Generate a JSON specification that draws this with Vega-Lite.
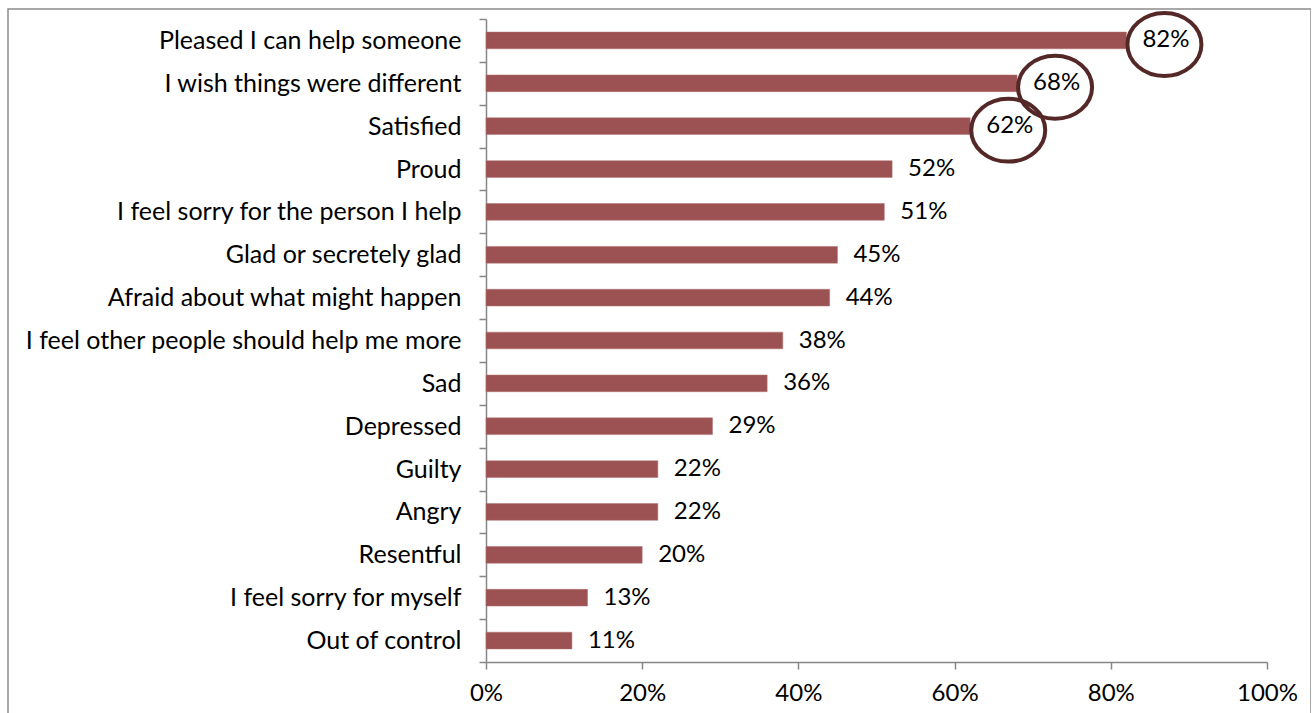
{
  "$schema": "https://vega.github.io/schema/vega-lite/v6.json",
  "autosize": {"type": "none"},
  "width": 1303,
  "height": 711,
  "padding": {"left": 8, "top": 9, "right": 0, "bottom": 0},
  "background": "white",
  "config": {
    "view": {"stroke": "#8c8c8c", "strokeWidth": 1.5},
    "font": "Lato",
    "axis": {"labelFont": "Lato", "labelFontSize": 24, "labelColor": "#000000", "domainColor": "#868686", "tickColor": "#868686", "domainWidth": 1.5, "tickWidth": 1.5, "tickSize": 7, "grid": false, "title": null}
  },
  "data": {
    "values": [
      {"feeling": "Pleased I can help someone", "value": 0.82, "circled": true},
      {"feeling": "I wish things were different", "value": 0.68, "circled": true},
      {"feeling": "Satisfied", "value": 0.62, "circled": true},
      {"feeling": "Proud", "value": 0.52, "circled": false},
      {"feeling": "I feel sorry for the person I help", "value": 0.51, "circled": false},
      {"feeling": "Glad or secretely glad", "value": 0.45, "circled": false},
      {"feeling": "Afraid about what might happen", "value": 0.44, "circled": false},
      {"feeling": "I feel other people should help me more", "value": 0.38, "circled": false},
      {"feeling": "Sad", "value": 0.36, "circled": false},
      {"feeling": "Depressed", "value": 0.29, "circled": false},
      {"feeling": "Guilty", "value": 0.22, "circled": false},
      {"feeling": "Angry", "value": 0.22, "circled": false},
      {"feeling": "Resentful", "value": 0.20, "circled": false},
      {"feeling": "I feel sorry for myself", "value": 0.13, "circled": false},
      {"feeling": "Out of control", "value": 0.11, "circled": false}
    ]
  },
  "encoding": {
    "y": {
      "field": "feeling", "type": "nominal", "sort": null,
      "scale": {"range": [10, 653], "paddingInner": 0, "paddingOuter": 0},
      "axis": {"offset": -478, "tickBand": "extent", "labelPadding": 18, "labelLimit": 500, "labelFontSize": 25}
    },
    "x": {
      "field": "value", "type": "quantitative",
      "scale": {"domain": [0, 1], "range": [478, 1259], "nice": false},
      "axis": {"offset": -58, "values": [0, 0.2, 0.4, 0.6, 0.8, 1], "format": ".0%", "labelPadding": 12, "labelFlush": false}
    }
  },
  "layer": [
    {"mark": {"type": "bar", "height": {"band": 0.39}, "color": "#9C5252", "stroke": "#B07070", "strokeWidth": 0.5}},
    {
      "mark": {"type": "text", "align": "left", "baseline": "middle", "dx": 16, "fontSize": 24, "font": "Lato", "color": "#000000"},
      "encoding": {"text": {"field": "value", "type": "quantitative", "format": ".0%"}}
    },
    {
      "transform": [{"filter": "datum.circled"}],
      "mark": {"type": "point", "shape": "M-1,0A1,0.85 0 1,1 1,0A1,0.85 0 1,1 -1,0Z", "size": 5476, "filled": false, "stroke": "#552828", "strokeWidth": 4, "opacity": 1, "xOffset": 38, "yOffset": 4}
    }
  ]
}
